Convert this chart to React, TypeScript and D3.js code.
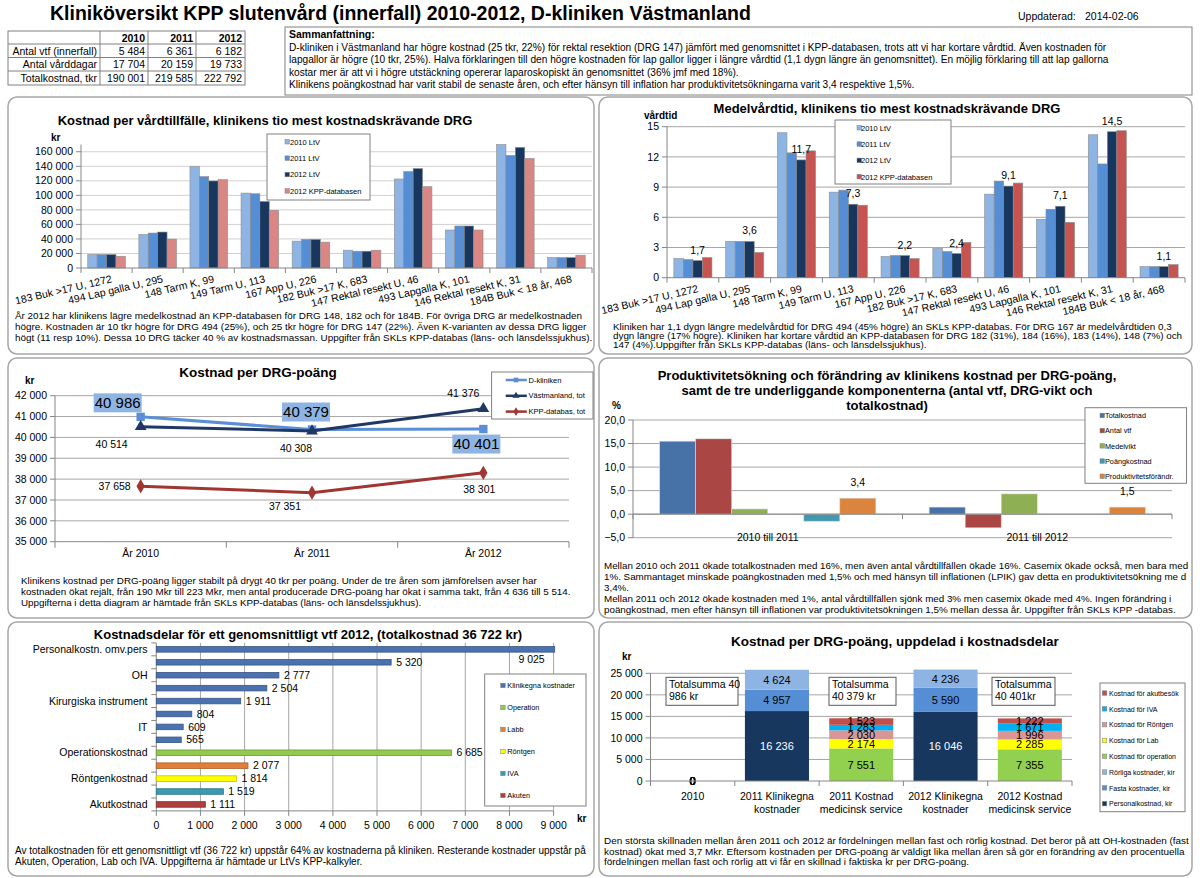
import React, { useEffect, useRef } from "react";
import * as d3 from "d3";

const FONT = "'Liberation Sans', Arial, Helvetica, sans-serif";
const sv = d3.formatLocale({ decimal: ",", thousands: " ", grouping: [3], currency: ["", ""] });
const fmtInt = sv.format(",.0f");
const fmtDec = sv.format(",.1f");

// header table
const tableYears = ["2010", "2011", "2012"];
const tableRowLabels = ["Antal vtf (innerfall)", "Antal vårddagar", "Totalkostnad, tkr"];
const antalVtf = [5484, 6361, 6182];
const antalVarddagar = [17704, 20159, 19733];
const totalkostnadTkr = [190001, 219585, 222792];

// tio mest kostnadskrävande DRG
const drgLabels = [
  "183  Buk >17 U, 1272",
  "494 Lap galla U, 295",
  "148  Tarm K, 99",
  "149 Tarm U, 113",
  "167 App U, 226",
  "182  Buk >17 K, 683",
  "147 Rektal resekt U, 46",
  "493 Lapgalla K, 101",
  "146 Rektal resekt K, 31",
  "184B Buk < 18 år, 468",
];
const drgSeries = ["2010 LtV", "2011 LtV", "2012 LtV", "2012 KPP-databasen"];
const kostnad2010 = [18500, 46200, 139600, 103100, 37000, 24500, 122500, 52300, 172500, 14300];
const kostnad2011 = [18500, 48100, 125800, 102200, 39300, 23100, 132700, 57800, 154900, 14300];
const kostnad2012 = [18500, 49500, 119800, 91600, 39300, 23100, 136900, 57800, 166000, 14300];
const kostnadKpp = [16200, 39800, 121600, 79500, 35600, 24500, 111900, 52300, 150800, 17600];

const vardtid2010 = [1.9, 3.6, 14.4, 8.5, 2.1, 2.9, 8.3, 5.8, 14.2, 1.1];
const vardtid2011 = [1.8, 3.6, 12.4, 8.7, 2.2, 2.6, 9.6, 6.8, 11.3, 1.1];
const vardtid2012 = [1.7, 3.6, 11.7, 7.3, 2.2, 2.4, 9.1, 7.1, 14.5, 1.1];
const vardtidKpp = [2.0, 2.5, 12.6, 7.2, 1.9, 3.5, 9.4, 5.5, 14.6, 1.3];

// kostnad per DRG-poäng
const poangYears = ["År 2010", "År 2011", "År 2012"];
const poangDKliniken = [40986, 40379, 40401];
const poangVastmanland = [40514, 40308, 41376];
const poangKpp = [37658, 37351, 38301];

// produktivitet
const perioder = ["2010 till 2011", "2011 till 2012"];
const prodSlots = ["Totalkostnad", "Antal vtf", "Medelvikt", "-", "Poängkostnad", "Produktivitetsförändr."];
const andringTotalkostnad = [15.5, 1.5];
const andringAntalVtf = [16.0, -2.9];
const andringMedelvikt = [1.1, 4.3];
const andringPoangkostnad = [-1.5, 0];
const andringProduktivitet = [3.4, 1.5];

// kostnadsdelar 2012
const delNamn = ["Personalkostn. omv.pers", "", "OH", "", "Kirurgiska instrument", "", "IT", "", "Operationskostnad", "", "Röntgenkostnad", "", "Akutkostnad"];
const delVarde = [9025, 5320, 2777, 2504, 1911, 804, 609, 565, 6685, 2077, 1814, 1519, 1111];
const delGrupp = [
  "Klinikegna kostnader", "Klinikegna kostnader", "Klinikegna kostnader", "Klinikegna kostnader",
  "Klinikegna kostnader", "Klinikegna kostnader", "Klinikegna kostnader", "Klinikegna kostnader",
  "Operation", "Labb", "Röntgen", "IVA", "Akuten",
];
const delGrupper = ["Klinikegna kostnader", "Operation", "Labb", "Röntgen", "IVA", "Akuten"];

// kostnad per DRG-poäng uppdelad
const stapelKategorier = ["2010", "2011 Klinikegna kostnader", "2011 Kostnad medicinsk service", "2012 Klinikegna kostnader", "2012 Kostnad medicinsk service"];
const stapelEtiketter = [["2010"], ["2011 Klinikegna", "kostnader"], ["2011 Kostnad", "medicinsk service"], ["2012 Klinikegna", "kostnader"], ["2012 Kostnad", "medicinsk service"]];
const personalkostnadKir = [0, 16236, 0, 16046, 0];
const fastaKostnaderKir = [0, 4957, 0, 5590, 0];
const rorligaKostnaderKir = [0, 4624, 0, 4236, 0];
const kostnadOperation = [0, 0, 7551, 0, 7355];
const kostnadLab = [0, 0, 2174, 0, 2285];
const kostnadRontgen = [0, 0, 2030, 0, 1996];
const kostnadIva = [0, 0, 1283, 0, 1671];
const kostnadAkut = [0, 0, 1523, 0, 1222];

type Sel = d3.Selection<any, unknown, null, undefined>;
type TxtOpts = { size?: number; anchor?: string; weight?: string; fill?: string; dy?: string };

const GRID = "#A6A6A6";
const AXIS = "#868686";

function txt(g: Sel, x: number, y: number, s: string, o: TxtOpts = {}) {
  return g
    .append("text")
    .attr("x", x)
    .attr("y", y)
    .attr("dy", o.dy ?? null)
    .attr("font-size", o.size ?? 10)
    .attr("text-anchor", o.anchor ?? "start")
    .attr("font-weight", o.weight ?? "normal")
    .attr("fill", o.fill ?? "#000")
    .text(s);
}

function line(g: Sel, x1: number, y1: number, x2: number, y2: number, color = AXIS, w = 1) {
  g.append("line").attr("x1", x1).attr("y1", y1).attr("x2", x2).attr("y2", y2).attr("stroke", color).attr("stroke-width", w);
}

function frame(g: Sel, x0: number, y0: number, x1: number, y1: number) {
  g.append("rect")
    .attr("x", x0)
    .attr("y", y0)
    .attr("width", x1 - x0)
    .attr("height", y1 - y0)
    .attr("rx", 9)
    .attr("fill", "#fff")
    .attr("stroke", "#A6A6A6")
    .attr("stroke-width", 1.5);
}

function caption(g: Sel, x: number, y: number, step: number, lines: string[], size = 10) {
  lines.forEach((l, i) => txt(g, x, y + i * step, l, { size }));
}

interface LegendItem {
  name: string;
  color: string;
}

function legendBox(g: Sel, box: number[], items: LegendItem[], firstY: number, step: number, swX: number, txX: number, size = 7.5) {
  const [x0, y0, x1, y1] = box;
  g.append("rect").attr("x", x0).attr("y", y0).attr("width", x1 - x0).attr("height", y1 - y0).attr("fill", "#fff").attr("stroke", "#808080");
  items.forEach((it, i) => {
    const y = firstY + i * step;
    g.append("rect").attr("x", swX).attr("y", y - 2.5).attr("width", 4.5).attr("height", 4.5).attr("fill", it.color).attr("stroke", "#7f7f7f").attr("stroke-width", 0.5);
    txt(g, txX, y, it.name, { size, dy: "0.35em" });
  });
}

function drawHeader(svg: Sel) {
  const g = svg.append("g");
  txt(g, 50, 20, "Kliniköversikt KPP slutenvård (innerfall) 2010-2012, D-kliniken Västmanland", { size: 19.5, weight: "bold" });
  txt(g, 1018, 20, "Uppdaterad:", { size: 10.5 });
  txt(g, 1085, 20, "2014-02-06", { size: 10.5 });

  // table
  const colX = [8, 100, 148, 196, 245];
  const rowY = [31, 44, 57.5, 71, 85];
  const rows = [antalVtf, antalVarddagar, totalkostnadTkr];
  g.append("rect").attr("x", colX[0]).attr("y", rowY[0]).attr("width", colX[4] - colX[0]).attr("height", rowY[4] - rowY[0]).attr("fill", "#fff").attr("stroke", "#808080");
  colX.slice(1, 4).forEach((x) => line(g, x, rowY[0], x, rowY[4], "#808080"));
  rowY.slice(1, 4).forEach((y) => line(g, colX[0], y, colX[4], y, "#808080"));
  tableYears.forEach((yr, i) => txt(g, colX[i + 2] - 3, rowY[0] + 10.5, yr, { size: 10.5, weight: "bold", anchor: "end" }));
  rows.forEach((vals, r) => {
    txt(g, colX[1] - 3, rowY[r + 1] + 10.5, tableRowLabels[r], { size: 10.5, anchor: "end" });
    vals.forEach((v, i) => txt(g, colX[i + 2] - 3, rowY[r + 1] + 10.5, fmtInt(v), { size: 10.5, anchor: "end" }));
  });

  // summary
  g.append("rect").attr("x", 285).attr("y", 27).attr("width", 907).attr("height", 68).attr("fill", "#fff").attr("stroke", "#808080");
  txt(g, 289, 38, "Sammanfattning:", { size: 10.5, weight: "bold" });
  caption(
    g,
    289,
    50.5,
    12.5,
    [
      "D-kliniken i Västmanland har högre kostnad (25 tkr, 22%) för rektal resektion (DRG 147) jämfört med genomsnittet i KPP-databasen, trots att vi har kortare vårdtid. Även kostnaden för",
      "lapgallor är högre (10 tkr, 25%). Halva förklaringen till den högre kostnaden för lap gallor ligger i längre vårdtid (1,1 dygn längre än genomsnittet). En möjlig förklaring till att lap gallorna",
      "kostar mer är att vi i högre utstäckning opererar laparoskopiskt än genomsnittet (36% jmf med 18%).",
      "Klinikens poängkostnad har varit stabil de senaste åren, och efter hänsyn till inflation har produktivitetsökningarna varit 3,4 respektive 1,5%.",
    ],
    10.15
  );
}

const drgColors = ["#8EB4E3", "#558ED5", "#17375E"];

function drawGroupedDrg(
  g: Sel,
  opts: {
    left: number;
    right: number;
    top: number;
    bottom: number;
    max: number;
    step: number;
    series: number[][];
    kppColor: string;
    gridColor: string;
    tickFmt: (v: number) => string;
    labelIndex?: number;
  }
) {
  const { left, right, top, bottom, max, step, series, kppColor, tickFmt } = opts;
  const x0 = d3.scaleBand().domain(drgLabels).range([left, right]);
  const x1 = d3.scaleBand().domain(drgSeries).range([0, x0.bandwidth()]).paddingOuter(0.72);
  const y = d3.scaleLinear().domain([0, max]).range([bottom, top]);
  const ticks = d3.range(0, max + 1e-9, step);
  ticks.forEach((t) => {
    if (t > 0) line(g, left, y(t), right, y(t), opts.gridColor);
    line(g, left - 5, y(t), left, y(t));
    txt(g, left - 8, y(t), tickFmt(t), { size: 10.5, anchor: "end", dy: "0.35em" });
  });
  line(g, left, top, left, bottom);
  const colors = [...drgColors, kppColor];
  series.forEach((vals, s) => {
    g.append("g")
      .selectAll("rect")
      .data(vals)
      .join("rect")
      .attr("x", (_, i) => (x0(drgLabels[i]) ?? 0) + (x1(drgSeries[s]) ?? 0))
      .attr("y", (d) => y(Math.min(d, max)))
      .attr("width", x1.bandwidth())
      .attr("height", (d) => bottom - y(Math.min(d, max)))
      .attr("fill", colors[s])
      .attr("stroke", "#8c8c8c")
      .attr("stroke-width", 0.6);
  });
  if (opts.labelIndex !== undefined) {
    const s = opts.labelIndex;
    series[s].forEach((v, i) => {
      const cx = (x0(drgLabels[i]) ?? 0) + (x1(drgSeries[s]) ?? 0) + x1.bandwidth() / 2;
      txt(g, cx, y(v) - 7, fmtDec(v), { size: 10.5, anchor: "middle" });
    });
  }
  line(g, left, bottom, right, bottom);
  drgLabels.forEach((lab, i) => {
    const bx = x0(lab) ?? 0;
    line(g, bx, bottom, bx, bottom + 5);
    const cx = bx + x0.bandwidth() / 2;
    g.append("text")
      .attr("transform", `translate(${cx + 4},${bottom + 6}) rotate(-13)`)
      .attr("text-anchor", "end")
      .attr("dy", "0.8em")
      .attr("font-size", 10.5)
      .text(lab);
  });
  line(g, right, bottom, right, bottom + 5);
  return { x0, y };
}

function drawCostPerStay(svg: Sel) {
  const g = svg.append("g");
  frame(g, 8, 97, 594, 354);
  txt(g, 265, 125, "Kostnad per vårdtillfälle, klinikens tio mest kostnadskrävande DRG", { size: 13, weight: "bold", anchor: "middle" });
  txt(g, 51, 141, "kr", { size: 10, weight: "bold" });
  drawGroupedDrg(g, {
    left: 81,
    right: 592,
    top: 144.5,
    bottom: 268,
    max: 170000,
    step: 20000,
    series: [kostnad2010, kostnad2011, kostnad2012, kostnadKpp],
    kppColor: "#D98684",
    gridColor: "#D0D0D0",
    tickFmt: fmtInt,
  });
  legendBox(
    g,
    [267, 134, 370, 200],
    drgSeries.map((name, i) => ({ name, color: [...drgColors, "#D98684"][i] })),
    142,
    16.4,
    285,
    290
  );
  caption(
    g,
    15,
    318.5,
    11,
    [
      "År 2012 har klinikens lägre medelkostnad än KPP-databasen för DRG 148, 182 och för 184B. För övriga DRG är medelkostnaden",
      "högre. Kostnaden är 10 tkr högre för DRG 494 (25%), och 25 tkr högre för DRG 147 (22%). Även K-varianten av dessa DRG ligger",
      "högt (11 resp 10%). Dessa 10 DRG täcker 40 % av kostnadsmassan. Uppgifter från SKLs KPP-databas (läns- och länsdelssjukhus).",
    ],
    9.9
  );
}

function drawLengthOfStay(svg: Sel) {
  const g = svg.append("g");
  frame(g, 599, 97, 1192, 354);
  txt(g, 887, 113, "Medelvårdtid, klinikens tio mest kostnadskrävande DRG", { size: 13, weight: "bold", anchor: "middle" });
  txt(g, 644, 119, "vårdtid", { size: 10, weight: "bold" });
  drawGroupedDrg(g, {
    left: 667,
    right: 1185,
    top: 126.7,
    bottom: 277.7,
    max: 15,
    step: 3,
    series: [vardtid2010, vardtid2011, vardtid2012, vardtidKpp],
    kppColor: "#C65552",
    gridColor: GRID,
    tickFmt: (v) => String(v),
    labelIndex: 2,
  });
  legendBox(
    g,
    [835, 120, 951, 184],
    drgSeries.map((name, i) => ({ name, color: [...drgColors, "#C65552"][i] })),
    128,
    16.3,
    857,
    861
  );
  caption(
    g,
    613,
    330,
    9,
    [
      "Kliniken har 1,1 dygn längre medelvårdtid för DRG 494 (45% högre) än SKLs KPP-databas. För DRG 167 är medelvårdtiden 0,3",
      "dygn längre (17% högre). Kliniken har kortare vårdtid än KPP-databasen för DRG 182 (31%), 184 (16%), 183 (14%), 148 (7%) och",
      "147 (4%).Uppgifter från SKLs KPP-databas (läns- och länsdelssjukhus).",
    ],
    9.85
  );
}

function drawPoang(svg: Sel) {
  const g = svg.append("g");
  frame(g, 8, 358, 594, 618);
  txt(g, 258, 377, "Kostnad per DRG-poäng", { size: 13.5, weight: "bold", anchor: "middle" });
  txt(g, 25, 384, "kr", { size: 10, weight: "bold" });
  const L = 55,
    R = 569,
    T = 395.7,
    B = 541.7;
  const x = d3.scaleBand().domain(poangYears).range([L, R]);
  const cx = (i: number) => (x(poangYears[i]) ?? 0) + x.bandwidth() / 2;
  const y = d3.scaleLinear().domain([35000, 42000]).range([B, T]);
  d3.range(35000, 42001, 1000).forEach((t) => {
    if (t > 35000) line(g, L, y(t), R, y(t), GRID);
    line(g, L - 5, y(t), L, y(t));
    txt(g, L - 8, y(t), fmtInt(t), { size: 10.5, anchor: "end", dy: "0.35em" });
  });
  line(g, L, T, L, B);
  line(g, L, B, R, B);
  poangYears.forEach((yr, i) => {
    const bx = x(yr) ?? 0;
    line(g, bx, B, bx, B + 6);
    txt(g, cx(i), B + 15, yr, { size: 10.5, anchor: "middle" });
  });
  line(g, R, B, R, B + 6);

  const series = [
    { name: "D-kliniken", vals: poangDKliniken, color: "#5A8ED6", sym: d3.symbolSquare, size: 70 },
    { name: "Västmanland, tot", vals: poangVastmanland, color: "#1F3864", sym: d3.symbolTriangle, size: 60 },
    { name: "KPP-databas, tot", vals: poangKpp, color: "#A03532", sym: d3.symbolDiamond, size: 60 },
  ];
  const path = d3
    .line<number>()
    .x((_, i) => cx(i))
    .y((d) => y(d));
  series.forEach((s) => {
    g.append("path").attr("d", path(s.vals)).attr("fill", "none").attr("stroke", s.color).attr("stroke-width", 3);
    s.vals.forEach((v, i) => {
      g.append("path")
        .attr("d", d3.symbol().type(s.sym).size(s.size)())
        .attr("transform", `translate(${cx(i)},${y(v)})`)
        .attr("fill", s.color);
    });
  });

  // D-kliniken labels in boxes
  const boxOff = [
    [-23, -14],
    [-6, -17.5],
    [-7, 15],
  ];
  poangDKliniken.forEach((v, i) => {
    const bx = cx(i) + boxOff[i][0];
    const by = y(v) + boxOff[i][1];
    g.append("rect").attr("x", bx - 24).attr("y", by - 9.5).attr("width", 48).attr("height", 19).attr("fill", "#8EB4E3");
    txt(g, bx, by, fmtInt(v), { size: 15, anchor: "middle", dy: "0.35em" });
  });
  const vOff = [
    [-29, 17.5],
    [-16, 17.5],
    [-20, -15.5],
  ];
  poangVastmanland.forEach((v, i) => txt(g, cx(i) + vOff[i][0], y(v) + vOff[i][1], fmtInt(v), { size: 10.5, anchor: "middle", dy: "0.35em" }));
  const kOff = [
    [-26, 0],
    [-27, 14],
    [-4, 16],
  ];
  poangKpp.forEach((v, i) => txt(g, cx(i) + kOff[i][0], y(v) + kOff[i][1], fmtInt(v), { size: 10.5, anchor: "middle", dy: "0.35em" }));

  // legend with line samples
  g.append("rect").attr("x", 491.6).attr("y", 372).attr("width", 101.4).attr("height", 47).attr("fill", "#fff").attr("stroke", "#808080");
  series.forEach((s, i) => {
    const ly = 380 + i * 15.8;
    line(g, 505.7, ly, 526.8, ly, s.color, 2.5);
    g.append("path").attr("d", d3.symbol().type(s.sym).size(22)()).attr("transform", `translate(516,${ly})`).attr("fill", s.color);
    txt(g, 528.5, ly, s.name, { size: 7.5, dy: "0.35em" });
  });

  caption(
    g,
    21,
    583.5,
    11.3,
    [
      "Klinikens kostnad per DRG-poäng ligger stabilt på drygt 40 tkr per poäng. Under de tre åren som jämförelsen avser har",
      "kostnaden ökat rejält, från 190 Mkr till 223 Mkr, men antal producerade DRG-poäng har ökat i samma takt, från 4 636 till 5 514.",
      "Uppgifterna i detta diagram är hämtade från SKLs KPP-databas (läns- och länsdelssjukhus).",
    ],
    9.8
  );
}

function drawProduktivitet(svg: Sel) {
  const g = svg.append("g");
  frame(g, 599, 358, 1192, 618);
  ["Produktivitetsökning och förändring av klinikens kostnad per DRG-poäng,", "samt de tre underliggande komponenterna (antal vtf, DRG-vikt och", "totalkostnad)"].forEach((l, i) =>
    txt(g, 887, 380 + i * 15, l, { size: 13, weight: "bold", anchor: "middle" })
  );
  txt(g, 612, 409, "%", { size: 10, weight: "bold" });
  const L = 633,
    R = 1172,
    T = 420,
    B = 537.7;
  const x0 = d3.scaleBand().domain(perioder).range([L, R]);
  const x1 = d3.scaleBand().domain(prodSlots).range([0, x0.bandwidth()]).paddingOuter(0.74);
  const y = d3.scaleLinear().domain([-5, 20]).range([B, T]);
  d3.range(-5, 20.001, 5).forEach((t) => {
    line(g, L, y(t), R, y(t), GRID);
    line(g, L - 5, y(t), L, y(t));
    txt(g, L - 8, y(t), fmtDec(t), { size: 10.5, anchor: "end", dy: "0.35em" });
  });
  line(g, L, T, L, B);
  const series = [
    { name: "Totalkostnad", vals: andringTotalkostnad, color: "#4672A8" },
    { name: "Antal vtf", vals: andringAntalVtf, color: "#AA4643" },
    { name: "Medelvikt", vals: andringMedelvikt, color: "#8FAF55" },
    { name: "Poängkostnad", vals: andringPoangkostnad, color: "#4198AF" },
    { name: "Produktivitetsförändr.", vals: andringProduktivitet, color: "#DB843D" },
  ];
  series.forEach((s) => {
    s.vals.forEach((v, i) => {
      if (v === 0) return;
      const bx = (x0(perioder[i]) ?? 0) + (x1(s.name) ?? 0);
      g.append("rect")
        .attr("x", bx)
        .attr("y", Math.min(y(v), y(0)))
        .attr("width", x1.bandwidth())
        .attr("height", Math.abs(y(v) - y(0)))
        .attr("fill", s.color)
        .attr("stroke", "#d9d9d9")
        .attr("stroke-width", 0.6);
    });
  });
  andringProduktivitet.forEach((v, i) => {
    const cx = (x0(perioder[i]) ?? 0) + (x1("Produktivitetsförändr.") ?? 0) + x1.bandwidth() / 2;
    txt(g, cx, y(v) - 12, fmtDec(v), { size: 10.5, anchor: "middle" });
  });
  line(g, L, y(0), R, y(0));
  [L, x0(perioder[1]) ?? 0, R].forEach((tx) => line(g, tx, y(0), tx, y(0) + 5));
  perioder.forEach((p) => txt(g, (x0(p) ?? 0) + x0.bandwidth() / 2, B, p, { size: 10.5, anchor: "middle", dy: "0.35em" }));
  legendBox(
    g,
    [1085, 407.7, 1186.5, 483.3],
    series.map((s) => ({ name: s.name, color: s.color })),
    415.7,
    15.2,
    1100,
    1105,
    7.3
  );
  caption(
    g,
    604,
    568.5,
    11,
    [
      "Mellan 2010 och 2011 ökade totalkostnaden med 16%, men även antal vårdtillfällen ökade 16%. Casemix ökade också, men bara med",
      "1%. Sammantaget minskade poängkostnaden med 1,5%  och med hänsyn till inflationen (LPIK) gav detta en produktivitetsökning me d",
      "3,4%.",
      "Mellan 2011 och 2012 ökade kostnaden med 1%, antal vårdtillfällen sjönk med 3% men casemix  ökade med 4%. Ingen förändring i",
      "poängkostnad, men efter hänsyn till inflationen var produktivitetsökningen 1,5% mellan dessa år. Uppgifter från SKLs KPP -databas.",
    ],
    9.8
  );
}

const delColors: Record<string, string> = {
  "Klinikegna kostnader": "#4A72B0",
  Operation: "#92C94E",
  Labb: "#E07F3A",
  Röntgen: "#FFFF00",
  IVA: "#3C9AB0",
  Akuten: "#B03F3C",
};

function drawKostnadsdelar(svg: Sel) {
  const g = svg.append("g");
  frame(g, 8, 622, 594, 876);
  txt(g, 308, 639, "Kostnadsdelar för ett genomsnittligt vtf 2012,  (totalkostnad 36 722 kr)", { size: 13, weight: "bold", anchor: "middle" });
  const L = 156.3,
    R = 553.6,
    T = 642.9,
    B = 810.9;
  const idx = d3.range(delVarde.length);
  const yb = d3.scaleBand<number>().domain(idx).range([T, B]);
  const ybar = d3.scaleBand<number>().domain(idx).range([T, B]).paddingInner(0.57).paddingOuter(0.285);
  const x = d3.scaleLinear().domain([0, 9000]).range([L, R]);
  d3.range(0, 9001, 1000).forEach((t) => {
    if (t > 0) line(g, x(t), T, x(t), B, GRID);
    line(g, x(t), B, x(t), B + 5);
    txt(g, x(t), B + 14, fmtInt(t), { size: 10.5, anchor: "middle", dy: "0.35em" });
  });
  txt(g, 577, 822, "kr", { size: 10, weight: "bold" });
  line(g, L, T, L, B);
  line(g, L, B, R, B);
  idx.forEach((i) => {
    line(g, L - 5, yb(i) ?? 0, L, yb(i) ?? 0);
    const cy = (yb(i) ?? 0) + yb.bandwidth() / 2;
    if (delNamn[i]) txt(g, 147.5, cy, delNamn[i], { size: 10.5, anchor: "end", dy: "0.35em" });
  });
  line(g, L - 5, B, L, B);
  g.append("g")
    .selectAll("rect")
    .data(delVarde)
    .join("rect")
    .attr("x", L)
    .attr("y", (_, i) => ybar(i) ?? 0)
    .attr("width", (d) => x(d) - L)
    .attr("height", ybar.bandwidth())
    .attr("fill", (_, i) => delColors[delGrupp[i]])
    .attr("stroke", (_, i) => (d3.color(delColors[delGrupp[i]]) as d3.RGBColor).darker(0.8).formatHex())
    .attr("stroke-width", 0.8);
  delVarde.forEach((v, i) => {
    const cy = (yb(i) ?? 0) + yb.bandwidth() / 2;
    if (v > 8500) txt(g, x(v) - 10, cy + 10, fmtInt(v), { size: 10.5, anchor: "end", dy: "0.35em" });
    else txt(g, x(v) + 5, cy, fmtInt(v), { size: 10.5, dy: "0.35em" });
  });
  legendBox(
    g,
    [484.7, 674, 586, 806],
    delGrupper.map((name) => ({ name, color: delColors[name] })),
    685.7,
    22,
    500.7,
    507.3,
    7.3
  );
  caption(
    g,
    15,
    853.5,
    11,
    [
      "Av totalkostnaden för ett genomsnittligt vtf (36 722 kr) uppstår 64% av kostnaderna på kliniken. Resterande kostnader uppstår på",
      "Akuten, Operation, Lab och IVA. Uppgifterna är hämtade ur LtVs KPP-kalkyler.",
    ],
    10
  );
}

function drawStacked(svg: Sel) {
  const g = svg.append("g");
  frame(g, 599, 622, 1192, 876);
  txt(g, 895, 645.5, "Kostnad per DRG-poäng, uppdelad i kostnadsdelar", { size: 13.5, weight: "bold", anchor: "middle" });
  txt(g, 622, 660, "kr", { size: 10, weight: "bold" });
  const L = 650.5,
    R = 1072,
    T = 673.3,
    B = 781;
  const xt = d3.scaleBand().domain(stapelKategorier).range([L, R]);
  const x = d3.scaleBand().domain(stapelKategorier).range([L, R]).paddingInner(0.24).paddingOuter(0.12);
  const y = d3.scaleLinear().domain([0, 25000]).range([B, T]);
  d3.range(0, 25001, 5000).forEach((t) => {
    if (t > 0) line(g, L, y(t), R, y(t), GRID);
    line(g, L - 5, y(t), L, y(t));
    txt(g, L - 8, y(t), fmtInt(t), { size: 10.5, anchor: "end", dy: "0.35em" });
  });
  line(g, L, T, L, B);

  const series = [
    { name: "Personalkostnad, kir", vals: personalkostnadKir, color: "#17375E", text: "#fff" },
    { name: "Fasta kostnader, kir", vals: fastaKostnaderKir, color: "#558ED5", text: "#000" },
    { name: "Rörliga kostnader, kir", vals: rorligaKostnaderKir, color: "#8EB4E3", text: "#000" },
    { name: "Kostnad för operation", vals: kostnadOperation, color: "#92D050", text: "#000" },
    { name: "Kostnad för Lab", vals: kostnadLab, color: "#FFFF00", text: "#000" },
    { name: "Kostnad för Röntgen", vals: kostnadRontgen, color: "#D99694", text: "#000" },
    { name: "Kostnad för IVA", vals: kostnadIva, color: "#00B0F0", text: "#000" },
    { name: "Kostnad för akutbesök", vals: kostnadAkut, color: "#C0504D", text: "#000" },
  ];
  const rows = stapelKategorier.map((_, i) => {
    const r: Record<string, number> = {};
    series.forEach((s) => (r[s.name] = s.vals[i]));
    return r;
  });
  const stacked = d3.stack<Record<string, number>>().keys(series.map((s) => s.name))(rows);
  stacked.forEach((layer, si) => {
    layer.forEach((seg, ci) => {
      const h = y(seg[0]) - y(seg[1]);
      const bx = x(stapelKategorier[ci]) ?? 0;
      if (h > 0)
        g.append("rect").attr("x", bx).attr("y", y(seg[1])).attr("width", x.bandwidth()).attr("height", h).attr("fill", series[si].color);
    });
  });
  stacked.forEach((layer, si) => {
    layer.forEach((seg, ci) => {
      const v = seg[1] - seg[0];
      if (v === 0 && ci !== 0) return;
      const cx = (x(stapelKategorier[ci]) ?? 0) + x.bandwidth() / 2;
      txt(g, cx, y((seg[0] + seg[1]) / 2), fmtInt(v), { size: 11, anchor: "middle", dy: "0.35em", fill: v === 0 ? "#000" : series[si].text });
    });
  });
  line(g, L, B, R, B);
  stapelKategorier.forEach((c, i) => {
    const bx = xt(c) ?? 0;
    line(g, bx, B, bx, B + 5);
    stapelEtiketter[i].forEach((l, k) => txt(g, bx + xt.bandwidth() / 2, B + 15 + k * 13.5, l, { size: 10.5, anchor: "middle", dy: "0.35em" }));
  });
  line(g, R, B, R, B + 5);

  // totalsumma text boxes
  const boxes = [
    { x: 666, w: 72, lines: ["Totalsumma 40", "986 kr"] },
    { x: 829, w: 67, lines: ["Totalsumma", "40 379 kr"] },
    { x: 992, w: 63, lines: ["Totalsumma", "40 401kr"] },
  ];
  boxes.forEach((b) => {
    g.append("rect").attr("x", b.x).attr("y", 677.3).attr("width", b.w).attr("height", 28).attr("fill", "#fff").attr("stroke", "#595959");
    b.lines.forEach((l, k) => txt(g, b.x + 3, 684.3 + k * 12, l, { size: 10.5, dy: "0.35em" }));
  });

  legendBox(
    g,
    [1100, 683, 1185, 811.7],
    series
      .slice()
      .reverse()
      .map((s) => ({ name: s.name, color: s.color })),
    693.3,
    15.8,
    1102.3,
    1109,
    7
  );
  caption(
    g,
    604,
    844,
    10.5,
    [
      "Den största skillnaden mellan åren 2011 och 2012 är fördelningen mellan fast och rörlig kostnad. Det beror på att OH-kostnaden (fast",
      "kostnad) ökat med 3,7 Mkr. Eftersom kostnaden per DRG-poäng är väldigt lika mellan åren så gör en förändring av den procentuella",
      "fördelningen mellan fast och rörlig att vi får en skillnad i faktiska kr per DRG-poäng.",
    ],
    9.95
  );
}

export default function App() {
  const ref = useRef<SVGSVGElement | null>(null);

  useEffect(() => {
    const svg = d3.select(ref.current) as unknown as Sel;
    svg.selectAll("*").remove();
    svg.attr("font-family", FONT);
    svg.append("rect").attr("width", 1200).attr("height", 878).attr("fill", "#fff");
    drawHeader(svg);
    drawCostPerStay(svg);
    drawLengthOfStay(svg);
    drawPoang(svg);
    drawProduktivitet(svg);
    drawKostnadsdelar(svg);
    drawStacked(svg);
  }, []);

  return <svg ref={ref} width={1200} height={878} style={{ position: "absolute", left: 0, top: 0 }} />;
}
